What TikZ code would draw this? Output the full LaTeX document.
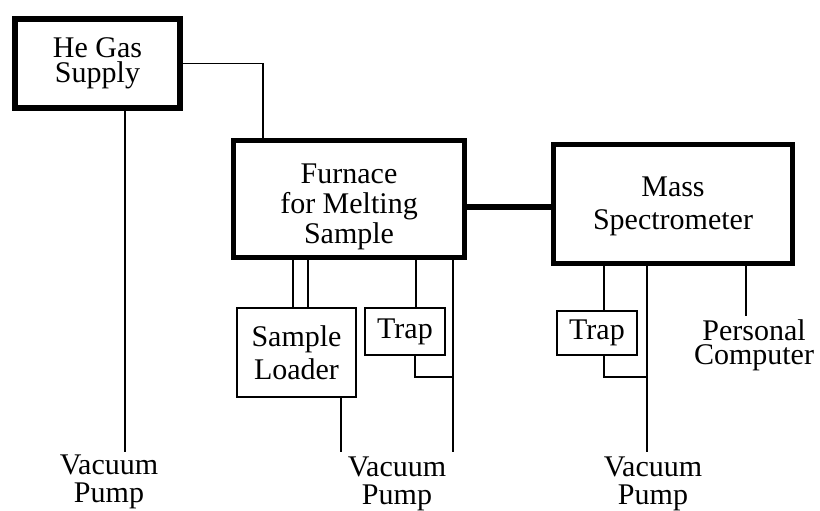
\documentclass[tikz,border=0pt]{standalone}
\usepackage{fontspec}
\setmainfont{Liberation Serif}
\begin{document}
\begin{tikzpicture}[x=1pt, y=-1pt,
    unit/.style={draw, line width=5.5pt, inner sep=0pt, align=center, font=\fontsize{30}{30}\selectfont},
    part/.style={draw, line width=1.8pt, inner sep=0pt, align=center, font=\fontsize{30}{33}\selectfont},
    pipe/.style={line width=1.8pt},
    tag/.style={inner sep=0pt, align=center, anchor=north, font=\fontsize{30}{28}\selectfont}]
    \useasboundingbox (0,0) rectangle (820,511);

    % main units
    \node[unit, minimum width=165pt, minimum height=89pt, font=\fontsize{30}{25}\selectfont] (he) at (97.5,63.5) {He Gas\\Supply};
    \node[unit, minimum width=231pt, minimum height=117pt] (fur) at (349,199) {\rule{0pt}{34.5pt}Furnace\\for Melting\\Sample};
    \node[unit, minimum width=239pt, minimum height=119pt, font=\fontsize{30}{33}\selectfont] (ms) at (673,204) {\rule{0pt}{25.3pt}Mass\\Spectrometer};
    
    % small parts
    \node[part, minimum width=119pt, minimum height=89pt] (sl) at (296.5,352.5) {Sample\\Loader};
    \node[part, minimum width=80pt, minimum height=47pt] (trapf) at (405,331.5) {Trap};
    \node[part, minimum width=80pt, minimum height=44pt] (trapm) at (597,333) {Trap};

    % free ends
    \coordinate (vp1) at (125,452);
    \coordinate (vp2) at (453,452);
    \coordinate (vp2a) at (341,452);
    \coordinate (vp3) at (647,452);
    \coordinate (pc) at (746,316);

    \draw[pipe] (he.east) -| (fur.north -| 263,0);
    \draw[pipe] (he.south -| vp1) -- (vp1);
    \draw[line width=5.5pt] (fur.east |- 0,207) -- (ms.west |- 0,207);
    
    \draw[pipe] (fur.south -| 293,0) -- (sl.north -| 293,0);
    \draw[pipe] (fur.south -| 308,0) -- (sl.north -| 308,0);
    \draw[pipe] (fur.south -| 416,0) -- (trapf.north -| 416,0);
    \draw[pipe] (fur.south -| vp2) -- (vp2);
    \draw[pipe] (trapf.south -| 415,0) |- (vp2 |- 0,377);
    \draw[pipe] (sl.south -| vp2a) -- (vp2a);
    
    \draw[pipe] (ms.south -| 604,0) -- (trapm.north -| 604,0);
    \draw[pipe] (ms.south -| vp3) -- (vp3);
    \draw[pipe] (trapm.south -| 604,0) |- (vp3 |- 0,377);
    \draw[pipe] (ms.south -| pc) -- (pc);

    % labels
    \node[tag] (pump1) at (109,455) {Vacuum\\Pump};
    \node[tag] (pump2) at (397,457) {Vacuum\\Pump};
    \node[tag] (pump3) at (653,457) {Vacuum\\Pump};
    \node[tag, font=\fontsize{30}{24}\selectfont] (comp) at (754,319) {Personal\\Computer};

\end{tikzpicture}
\end{document}
